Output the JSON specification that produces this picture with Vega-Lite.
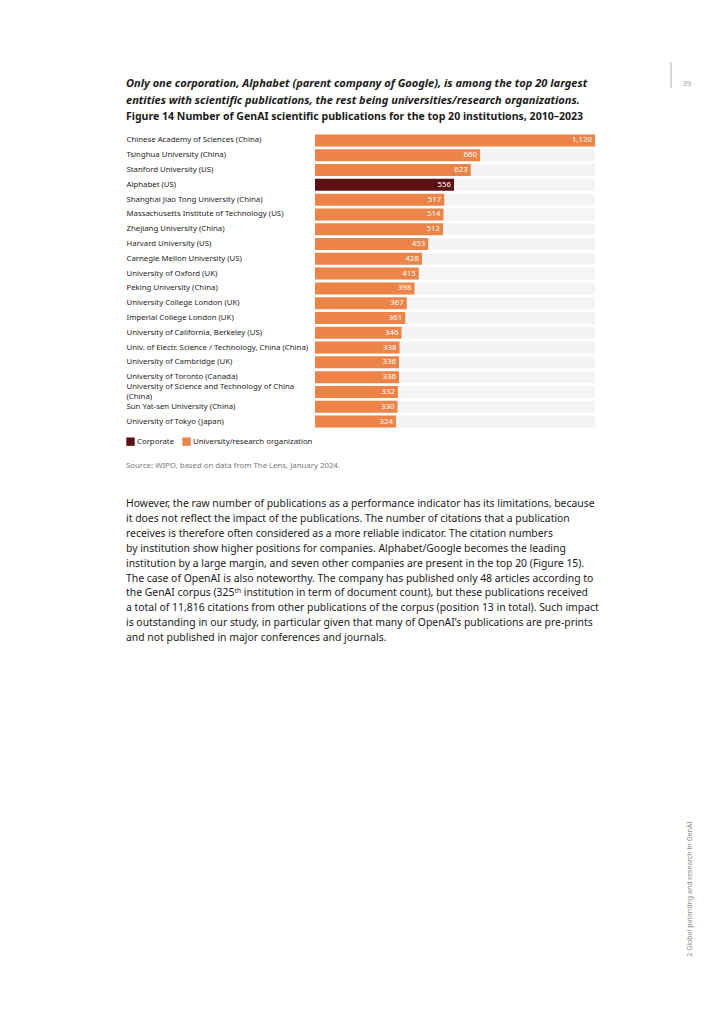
{
  "$schema": "https://vega.github.io/schema/vega-lite/v6.json",
  "autosize": {"type": "none"},
  "width": 280,
  "height": 296,
  "padding": {"left": 315, "top": 133, "right": 125, "bottom": 590},
  "background": "white",
  "config": {"view": {"stroke": null}, "font": "Noto Sans"},
  "title": {
    "text": ["Only one corporation, Alphabet (parent company of Google), is among the top 20 largest", "entities with scientific publications, the rest being universities/research organizations."],
    "subtitle": "Figure 14 Number of GenAI scientific publications for the top 20 institutions, 2010–2023",
    "anchor": "start",
    "frame": "group",
    "dx": -189,
    "offset": -61,
    "font": "Noto Sans",
    "fontSize": 11.05,
    "fontStyle": "italic",
    "fontWeight": "bold",
    "lineHeight": 17,
    "color": "#1a1a1a",
    "subtitleFont": "Noto Sans",
    "subtitleFontSize": 10.55,
    "subtitleFontWeight": "bold",
    "subtitleColor": "#1a1a1a",
    "subtitlePadding": 6
  },
  "data": {
    "values": [
      {"name": "Chinese Academy of Sciences (China)", "value": 1120, "type": "University/research organization"},
      {"name": "Tsinghua University (China)", "value": 660, "type": "University/research organization"},
      {"name": "Stanford University (US)", "value": 623, "type": "University/research organization"},
      {"name": "Alphabet (US)", "value": 556, "type": "Corporate"},
      {"name": "Shanghai Jiao Tong University (China)", "value": 517, "type": "University/research organization"},
      {"name": "Massachusetts Institute of Technology (US)", "value": 514, "type": "University/research organization"},
      {"name": "Zhejiang University (China)", "value": 512, "type": "University/research organization"},
      {"name": "Harvard University (US)", "value": 453, "type": "University/research organization"},
      {"name": "Carnegie Mellon University (US)", "value": 428, "type": "University/research organization"},
      {"name": "University of Oxford (UK)", "value": 415, "type": "University/research organization"},
      {"name": "Peking University (China)", "value": 398, "type": "University/research organization"},
      {"name": "University College London (UK)", "value": 367, "type": "University/research organization"},
      {"name": "Imperial College London (UK)", "value": 361, "type": "University/research organization"},
      {"name": "University of California, Berkeley (US)", "value": 346, "type": "University/research organization"},
      {"name": "Univ. of Electr. Science / Technology, China (China)", "value": 338, "type": "University/research organization"},
      {"name": "University of Cambridge (UK)", "value": 336, "type": "University/research organization"},
      {"name": "University of Toronto (Canada)", "value": 336, "type": "University/research organization"},
      {"name": "University of Science and Technology of China (China)", "value": 332, "type": "University/research organization"},
      {"name": "Sun Yat-sen University (China)", "value": 330, "type": "University/research organization"},
      {"name": "University of Tokyo (Japan)", "value": 324, "type": "University/research organization"}
    ]
  },
  "encoding": {
    "y": {
      "field": "name",
      "type": "nominal",
      "sort": null,
      "scale": {"paddingInner": 0.19, "paddingOuter": 0.1},
      "axis": {
        "title": null,
        "domain": false,
        "ticks": false,
        "labelAlign": "left",
        "labelPadding": 189,
        "labelFont": "Noto Sans",
        "labelFontSize": 7.8,
        "labelColor": "#1e1e1e",
        "labelLimit": 250,
        "labelLineHeight": 10,
        "labelOffset": {"condition": {"test": "datum.value == 'University of Science and Technology of China (China)'", "value": -5}, "value": 0},
        "labelExpr": "datum.label == 'University of Science and Technology of China (China)' ? ['University of Science and Technology of China', '(China)'] : datum.label"
      }
    }
  },
  "layer": [
    {
      "mark": {"type": "bar", "color": "#f4f4f4"},
      "encoding": {
        "x": {"datum": 1120, "type": "quantitative", "scale": {"domain": [0, 1120], "nice": false}, "axis": null}
      }
    },
    {
      "mark": {"type": "bar"},
      "encoding": {
        "x": {"field": "value", "type": "quantitative", "scale": {"domain": [0, 1120], "nice": false}, "axis": null},
        "color": {
          "field": "type",
          "type": "nominal",
          "scale": {"domain": ["Corporate", "University/research organization"], "range": ["#5c1214", "#ec8447"]},
          "legend": {
            "title": null,
            "orient": "none",
            "legendX": -189,
            "legendY": 304,
            "direction": "horizontal",
            "symbolType": "square",
            "symbolSize": 70,
            "symbolStrokeWidth": 0,
            "symbolOpacity": 1,
            "labelFont": "Noto Sans",
            "labelFontSize": 7.8,
            "labelColor": "#1e1e1e",
            "labelOffset": 2,
            "columnPadding": 7
          }
        }
      }
    },
    {
      "mark": {"type": "text", "align": "right", "baseline": "middle", "dx": -3, "color": "white", "font": "Noto Sans", "fontSize": 7.8},
      "encoding": {
        "x": {"field": "value", "type": "quantitative", "scale": {"domain": [0, 1120], "nice": false}, "axis": null},
        "text": {"field": "value", "type": "quantitative", "format": ","}
      }
    },
    {
      "data": {"values": [{"t": "Source: WIPO, based on data from The Lens, January 2024."}]},
      "mark": {"type": "text", "align": "left", "baseline": "middle", "color": "#7a7a7a", "font": "Noto Sans", "fontSize": 7.8},
      "encoding": {"x": {"value": -189}, "y": {"value": 333}, "text": {"field": "t"}, "color": {"value": "#7a7a7a"}}
    },
    {
      "data": {"values": [{"t": 1}]},
      "mark": {"type": "text", "align": "left", "baseline": "alphabetic", "font": "Noto Sans", "fontSize": 10.4, "lineHeight": 14.9, "color": "#1a1a1a"},
      "encoding": {
        "x": {"value": -189},
        "y": {"value": 374},
        "color": {"value": "#1a1a1a"},
        "text": {"value": [
          "However, the raw number of publications as a performance indicator has its limitations, because",
          "it does not reflect the impact of the publications. The number of citations that a publication",
          "receives is therefore often considered as a more reliable indicator. The citation numbers",
          "by institution show higher positions for companies. Alphabet/Google becomes the leading",
          "institution by a large margin, and seven other companies are present in the top 20 (Figure 15).",
          "The case of OpenAI is also noteworthy. The company has published only 48 articles according to",
          "the GenAI corpus (325ᵗʰ institution in term of document count), but these publications received",
          "a total of 11,816 citations from other publications of the corpus (position 13 in total). Such impact",
          "is outstanding in our study, in particular given that many of OpenAI’s publications are pre-prints",
          "and not published in major conferences and journals."
        ]}
      }
    },
    {
      "data": {"values": [{"t": "39"}]},
      "mark": {"type": "text", "align": "left", "baseline": "middle", "font": "Noto Sans", "fontSize": 7, "color": "#9a9a9a"},
      "encoding": {"x": {"value": 368}, "y": {"value": -49}, "text": {"field": "t"}, "color": {"value": "#9a9a9a"}}
    },
    {
      "data": {"values": [{"t": 1}]},
      "mark": {"type": "rule", "color": "#b0b0b0", "strokeWidth": 1},
      "encoding": {"x": {"value": 356}, "y": {"value": -71}, "y2": {"value": -45}, "color": {"value": "#b0b0b0"}}
    },
    {
      "data": {"values": [{"t": "2 Global patenting and research in GenAI"}]},
      "mark": {"type": "text", "align": "center", "baseline": "middle", "angle": 270, "font": "Noto Sans", "fontSize": 7, "color": "#8a8a8a"},
      "encoding": {"x": {"value": 375}, "y": {"value": 756}, "text": {"field": "t"}, "color": {"value": "#8a8a8a"}}
    }
  ]
}
